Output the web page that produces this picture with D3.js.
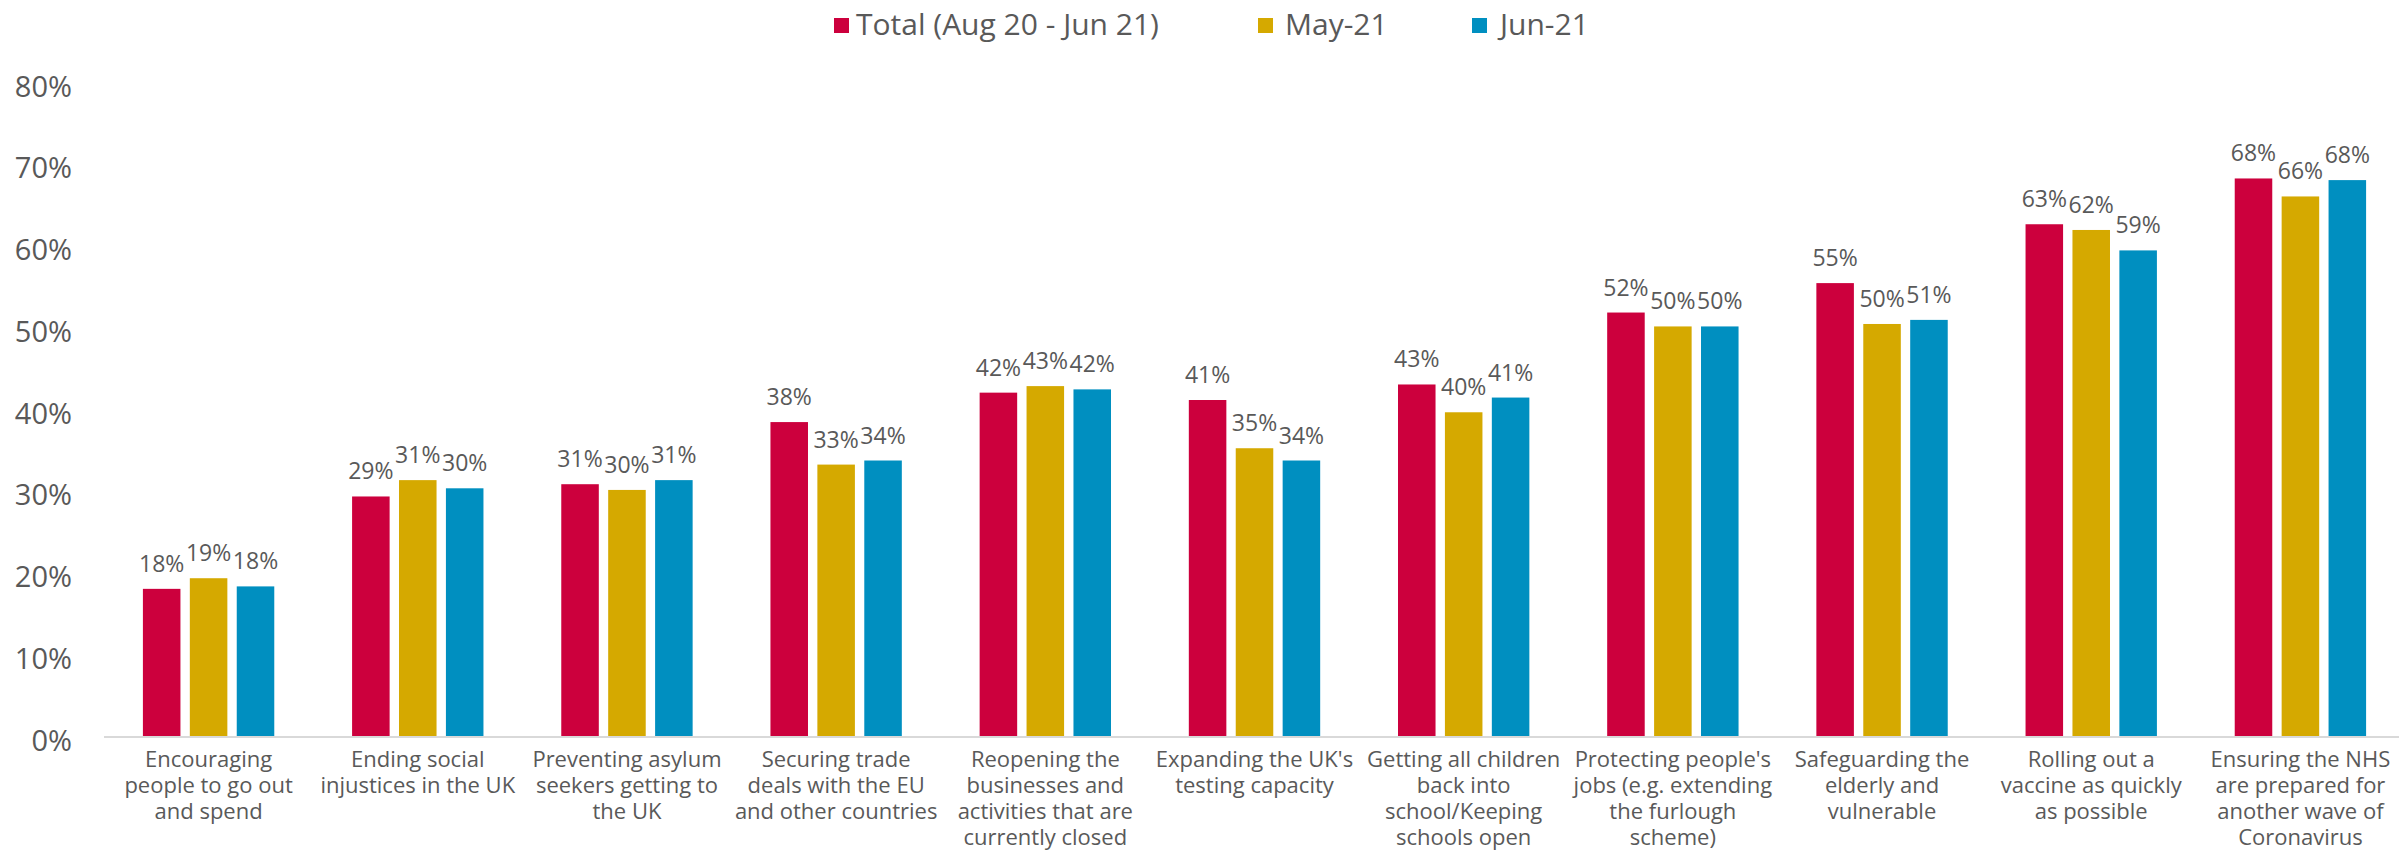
<!DOCTYPE html>
<html>
<head>
<meta charset="utf-8">
<script src="https://cdn.jsdelivr.net/npm/d3@7"></script>
<style>
  html, body { margin: 0; padding: 0; background: #fff; }
  svg { display: block; }
  text { font-family: "Open Sans", "Noto Sans", sans-serif; fill: #595959; }
</style>
</head>
<body>
<svg id="chart" width="2399" height="851"></svg>
<script>
// ---- Data ----
const categories = [
  "Encouraging\npeople to go out\nand spend",
  "Ending social\ninjustices in the UK",
  "Preventing asylum\nseekers getting to\nthe UK",
  "Securing trade\ndeals with the EU\nand other countries",
  "Reopening the\nbusinesses and\nactivities that are\ncurrently closed",
  "Expanding the UK's\ntesting capacity",
  "Getting all children\nback into\nschool/Keeping\nschools open",
  "Protecting people's\njobs (e.g. extending\nthe furlough\nscheme)",
  "Safeguarding the\nelderly and\nvulnerable",
  "Rolling out a\nvaccine as quickly\nas possible",
  "Ensuring the NHS\nare prepared for\nanother wave of\nCoronavirus"
];
const seriesNames = ["Total (Aug 20 - Jun 21)", "May-21", "Jun-21"];
const totalValues = [0.180, 0.293, 0.308, 0.384, 0.420, 0.411, 0.430, 0.518, 0.554, 0.626, 0.682];
const may21Values = [0.193, 0.313, 0.301, 0.332, 0.428, 0.352, 0.396, 0.501, 0.504, 0.619, 0.660];
const jun21Values = [0.183, 0.303, 0.313, 0.337, 0.424, 0.337, 0.414, 0.501, 0.509, 0.594, 0.680];
const seriesColors = ["#CC003D", "#D5A900", "#008FC0"];
const yTicks = [0, 0.1, 0.2, 0.3, 0.4, 0.5, 0.6, 0.7, 0.8];

const seriesValues = [totalValues, may21Values, jun21Values];
const rows = categories.map((c, i) => ({
  cat: c,
  vals: seriesNames.map((s, j) => ({ series: s, idx: j, value: seriesValues[j][i] }))
}));

// ---- Layout ----
const svg = d3.select("#chart");
const plotLeft = 104, plotRight = 2405, baseY = 736, topY = 82;

const x0 = d3.scaleBand().domain(categories).range([plotLeft, plotRight]).paddingInner(0).paddingOuter(0);
const bw = x0.bandwidth();
const x1 = d3.scaleBand().domain(seriesNames).range([bw * 0.186, bw * 0.814]).paddingInner(0.2);
const y = d3.scaleLinear().domain([0, 0.8]).range([baseY, topY]);
const color = d3.scaleOrdinal().domain(seriesNames).range(seriesColors);

// Y axis
const yAxis = d3.axisLeft(y).tickValues(yTicks).tickFormat(d3.format(".0%")).tickSize(0).tickPadding(32);
const yg = svg.append("g").attr("transform", `translate(${plotLeft},0)`).call(yAxis);
yg.select(".domain").remove();
yg.selectAll("text")
  .attr("dy", "0.38em")
  .attr("transform", "translate(0,3)")
  .style("font-family", '"Open Sans", sans-serif')
  .style("font-size", "29px")
  .attr("fill", "#595959");

// Bars
const groups = svg.append("g").selectAll("g")
  .data(rows).join("g")
  .attr("transform", d => `translate(${x0(d.cat)},0)`);

groups.selectAll("rect")
  .data(d => d.vals).join("rect")
  .attr("x", d => x1(d.series))
  .attr("width", x1.bandwidth())
  .attr("y", d => y(d.value))
  .attr("height", d => y(0) - y(d.value))
  .attr("fill", d => color(d.series));

// Data labels
groups.selectAll("text.lbl")
  .data(d => d.vals).join("text")
  .attr("class", "lbl")
  .attr("x", d => x1(d.series) + x1.bandwidth() / 2)
  .attr("y", d => y(d.value) - 17)
  .attr("text-anchor", "middle")
  .style("font-size", "23px")
  .attr("fill", "#404040")
  .text(d => d3.format(".0%")(d.value));

// X axis line
svg.append("line")
  .attr("x1", plotLeft).attr("x2", plotRight)
  .attr("y1", baseY + 1).attr("y2", baseY + 1)
  .attr("stroke", "#d9d9d9").attr("stroke-width", 2);

// Category labels
const catG = svg.append("g").selectAll("text")
  .data(categories).join("text")
  .attr("x", d => x0(d) + bw / 2)
  .attr("y", 767)
  .attr("text-anchor", "middle")
  .style("font-size", "22px");
catG.each(function(d) {
  const t = d3.select(this);
  d.split("\n").forEach((line, i) => {
    t.append("tspan")
      .attr("x", x0(d) + bw / 2)
      .attr("y", 767 + i * 26)
      .text(line);
  });
});

// Legend
const legendPos = [
  { sx: 834, tx: 856 },
  { sx: 1258, tx: 1285 },
  { sx: 1472, tx: 1500 }
];
const lg = svg.append("g").selectAll("g")
  .data(seriesNames).join("g");
lg.append("rect")
  .attr("x", (d, i) => legendPos[i].sx)
  .attr("y", 18)
  .attr("width", 15).attr("height", 15)
  .attr("fill", d => color(d));
lg.append("text")
  .attr("x", (d, i) => legendPos[i].tx)
  .attr("y", 35)
  .style("font-size", "30px")
  .text(d => d);
</script>
</body>
</html>
